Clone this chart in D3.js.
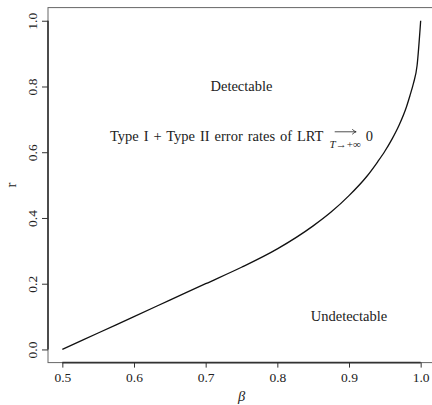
<!DOCTYPE html>
<html>
<head>
<meta charset="utf-8">
<script src="https://cdn.jsdelivr.net/npm/d3@7"></script>
<style>
    html, body { margin: 0; padding: 0; background: #fff; }
    text { font-family: "Liberation Serif", "DejaVu Serif", serif; fill: #222; }
</style>
</head>
<body>
<svg id="chart"></svg>
<script>
// detection boundary
const betaValues = [0.5, 0.55, 0.6, 0.65, 0.7, 0.75, 0.8, 0.85, 0.875, 0.9, 0.925, 0.94, 0.95, 0.96, 0.97, 0.98, 0.985, 0.99, 0.995, 1.0];
const rValues    = [0.0, 0.05, 0.1, 0.15, 0.2, 0.25, 0.306, 0.376, 0.418, 0.468, 0.527, 0.571, 0.603, 0.64, 0.683, 0.737, 0.772, 0.81, 0.864, 1.0];

const xTicks = [0.5, 0.6, 0.7, 0.8, 0.9, 1.0];
const yTicks = [0.0, 0.2, 0.4, 0.6, 0.8, 1.0];
const xDomain = [0.48, 1.02];
const yDomain = [-0.04, 1.04];

const regionLabels = [
    { text: "Detectable", beta: 0.75, r: 0.8 },
    { text: "Undetectable", beta: 0.9, r: 0.1 }
];
const errorLabel = { text: "Type I + Type II error rates of LRT", sub: "T", subRest: "\u2192+\u221E", tail: "0", beta: 0.75, r: 0.65 };

const boundaryChart = {
    chart: { width: 432, height: 405 },
    padding: { top: 7.6, right: -3, bottom: 42.4, left: 48 },
    fontSize: 14.5,
    svg: null,
    x: null,
    y: null,
    setup: function(svgId) {
        this.svg = d3.select("#" + svgId)
            .attr("width", this.chart.width)
            .attr("height", this.chart.height);
        this.x = d3.scaleLinear()
            .domain(xDomain)
            .range([this.padding.left, this.chart.width - this.padding.right]);
        this.y = d3.scaleLinear()
            .domain(yDomain)
            .range([this.chart.height - this.padding.bottom, this.padding.top]);
    },
    drawBox: function() {
        this.svg.append("rect")
            .attr("x", this.x(xDomain[0]))
            .attr("y", this.y(yDomain[1]))
            .attr("width", this.x(xDomain[1]) - this.x(xDomain[0]))
            .attr("height", this.y(yDomain[0]) - this.y(yDomain[1]))
            .attr("fill", "none")
            .attr("stroke", "#666")
            .attr("stroke-width", 1);
    },
    drawAxes: function() {
        var bottom = this.y(yDomain[0]);
        var left = this.x(xDomain[0]);

        var xAxis = this.svg.append("g")
            .attr("transform", "translate(0," + bottom + ")")
            .call(d3.axisBottom(this.x).tickValues(xTicks).tickSize(5).tickPadding(5).tickFormat(d3.format(".1f")));
        xAxis.select(".domain").remove();
        xAxis.append("line")
            .attr("x1", this.x(xTicks[0])).attr("x2", this.x(xTicks[xTicks.length - 1]))
            .attr("stroke", "#333").attr("stroke-width", 1.6);
        xAxis.selectAll(".tick line").attr("stroke", "#333");
        xAxis.selectAll(".tick text")
            .attr("font-family", "Liberation Serif")
            .attr("font-size", 13.5)
            .attr("fill", "#222");

        var yAxis = this.svg.append("g")
            .attr("transform", "translate(" + left + ",0)")
            .call(d3.axisLeft(this.y).tickValues(yTicks).tickSize(6).tickFormat(d3.format(".1f")));
        yAxis.select(".domain").remove();
        yAxis.append("line")
            .attr("y1", this.y(yTicks[0])).attr("y2", this.y(yTicks[yTicks.length - 1]))
            .attr("stroke", "#333").attr("stroke-width", 1.6);
        yAxis.selectAll(".tick line").attr("stroke", "#333");
        yAxis.selectAll(".tick text").remove();
        yAxis.selectAll(".tick").append("text")
            .attr("transform", "translate(-11,0) rotate(-90)")
            .attr("text-anchor", "middle")
            .attr("font-family", "Liberation Serif")
            .attr("font-size", 13.5)
            .attr("fill", "#222")
            .text(d3.format(".1f"));

        // axis titles
        this.svg.append("text")
            .attr("transform", "translate(16," + ((this.y(yDomain[0]) + this.y(yDomain[1])) / 2) + ") rotate(-90)")
            .attr("text-anchor", "middle")
            .attr("font-size", this.fontSize)
            .text("r");
        this.svg.append("text")
            .attr("x", (this.x(xDomain[0]) + this.x(xDomain[1])) / 2)
            .attr("y", 401)
            .attr("text-anchor", "middle")
            .attr("font-size", this.fontSize)
            .attr("font-style", "italic")
            .text("\u03B2");
    },
    drawBoundary: function() {
        var me = this;
        var points = betaValues.map(function(b, i) { return [b, rValues[i]]; });
        var line = d3.line()
            .x(function(d) { return me.x(d[0]); })
            .y(function(d) { return me.y(d[1]); })
            .curve(d3.curveMonotoneX);
        this.svg.append("path")
            .datum(points)
            .attr("d", line)
            .attr("fill", "none")
            .attr("stroke", "#111")
            .attr("stroke-width", 1.3);
    },
    drawLabels: function() {
        var me = this;
        this.svg.selectAll(".region").data(regionLabels).enter()
            .append("text")
            .attr("class", "region")
            .attr("x", function(d) { return me.x(d.beta); })
            .attr("y", function(d) { return me.y(d.r); })
            .attr("dy", "0.32em")
            .attr("text-anchor", "middle")
            .attr("font-size", this.fontSize)
            .text(function(d) { return d.text; });

        // Type I + Type II ... -> 0, with the limit operator built by hand
        var g = this.svg.append("g");
        var main = g.append("text")
            .attr("x", 0).attr("y", 5)
            .attr("font-size", this.fontSize)
            .attr("word-spacing", 1.3)
            .text(errorLabel.text);
        var w1 = main.node().getBBox().width;

        var sub = g.append("text")
            .attr("y", 12.5)
            .attr("font-size", 11);
        sub.append("tspan").attr("font-style", "italic").text(errorLabel.sub);
        sub.append("tspan").text(errorLabel.subRest);
        var subX = w1 + 6;
        sub.attr("x", subX);
        var wSub = sub.node().getComputedTextLength();

        var arrowMid = subX + wSub / 2;
        var arrowHalf = 10.5;
        g.append("path")
            .attr("d", "M" + (arrowMid - arrowHalf) + ",-4 H" + (arrowMid + arrowHalf))
            .attr("stroke", "#222").attr("stroke-width", 0.8).attr("fill", "none");
        g.append("path")
            .attr("d", "M" + (arrowMid + arrowHalf - 3.5) + ",-6.5 Q" + (arrowMid + arrowHalf - 1.5) + ",-4.6 " + (arrowMid + arrowHalf + 0.5) + ",-4" +
                  " Q" + (arrowMid + arrowHalf - 1.5) + ",-3.4 " + (arrowMid + arrowHalf - 3.5) + ",-1.5")
            .attr("stroke", "#222").attr("stroke-width", 0.8).attr("fill", "none");

        var tail = g.append("text")
            .attr("x", subX + wSub + 5).attr("y", 5)
            .attr("font-size", this.fontSize)
            .text(errorLabel.tail);
        var total = subX + wSub + 5 + tail.node().getComputedTextLength();
        g.attr("transform", "translate(" + (this.x(errorLabel.beta) - total / 2) + "," + this.y(errorLabel.r) + ")");
    },
    run: function(svgId) {
        this.setup(svgId);
        this.drawBox();
        this.drawBoundary();
        this.drawAxes();
        this.drawLabels();
    }
};

boundaryChart.run("chart");
</script>
</body>
</html>
